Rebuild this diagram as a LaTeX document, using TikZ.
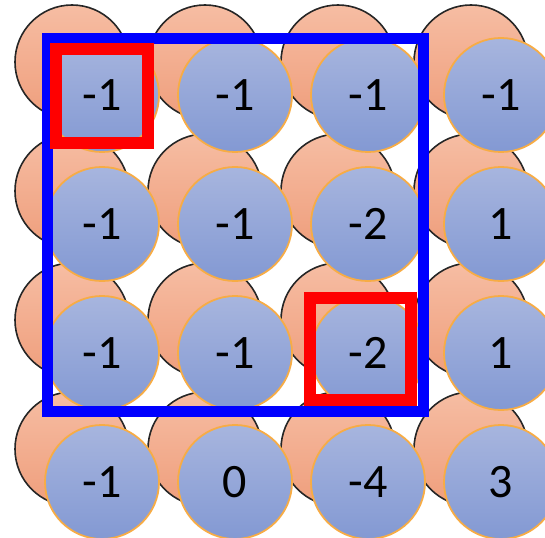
\documentclass[tikz,border=0pt]{standalone}
\usepackage{fontspec}
\setmainfont{Carlito}
\definecolor{celltop}{RGB}{167,181,222}
\definecolor{cellbottom}{RGB}{131,153,211}
\definecolor{celledge}{RGB}{247,172,69}
\definecolor{shadowtop}{RGB}{246,189,163}
\definecolor{shadowbottom}{RGB}{239,158,124}
\definecolor{windowblue}{RGB}{0,0,255}
\definecolor{pickred}{RGB}{255,0,0}
\tikzset{cell/.style={circle,minimum size=114,inner sep=0pt,draw=celledge,line width=1.8pt,
 top color=celltop,bottom color=cellbottom,font=\fontsize{48}{56}\selectfont},
 shadow/.style={circle,minimum size=114,inner sep=0pt,draw=black!85,line width=1.6pt,
 top color=shadowtop,bottom color=shadowbottom},
 window/.style={draw=windowblue,line width=11pt},
 pick/.style={draw=pickred,line width=12pt}}

\begin{document}
\begin{tikzpicture}[x=1pt,y=-1pt]
\useasboundingbox (0,0) rectangle (545,537);
\foreach \row in {1,...,4} {
\foreach \col in {1,...,4} {
 \node[shadow] (s\row\col) at ({72+133*(\col-1)},{62+129*(\row-1)}) {};
}
}
\foreach \row/\vals in {1/{-1,-1,-1,-1},2/{-1,-1,-2,1},3/{-1,-1,-2,1},4/{-1,0,-4,3}} {
\foreach \val [count=\col] in \vals {
 \node[cell] (v\row\col) at ({102+133*(\col-1)},{95+129*(\row-1)}) {\val};
}
}
\draw[window] (47.5,38.5) rectangle (423.5,411.5);
\draw[pick] (56,49.5) rectangle (148,143.5);
\draw[pick] (310,298) rectangle (410.5,400);
\end{tikzpicture}
\end{document}
